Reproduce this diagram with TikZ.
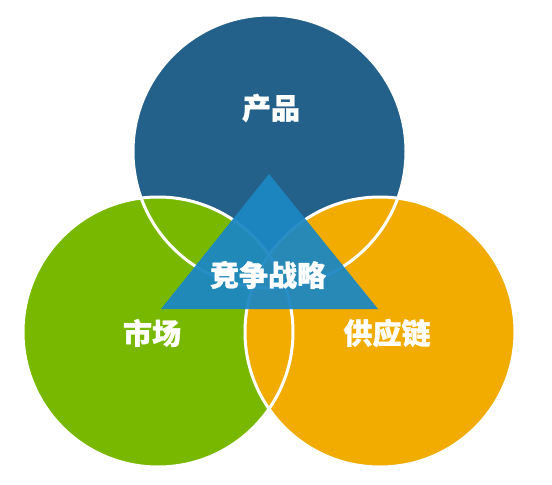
\documentclass[tikz,border=0pt]{standalone}
\usepackage{fontspec}
\newfontfamily\cjk{Noto Sans CJK SC}[BoldFeatures={FakeBold=1.2}]
\definecolor{prodblue}{HTML}{24618A}
\definecolor{mktgreen}{HTML}{79B800}
\definecolor{supplyorange}{HTML}{F2AC00}
\definecolor{stratblue}{HTML}{1C87C3}

\begin{document}
\begin{tikzpicture}[x=1pt, y=-1pt,
  ring/.style={draw=white, line width=3pt},
  label/.style={text=white, font=\cjk\bfseries\fontsize{29}{29}\selectfont, inner sep=0pt}]
\useasboundingbox (0, 0) rectangle (552, 485);
\fill [prodblue] (269.5, 151.5) circle (136.5);
\fill [mktgreen] (158, 332) circle (135);
\fill [supplyorange] (380, 332) circle (135);
\draw [ring] (269.5, 151.5) circle (136.5);
\draw [ring] (158, 332) circle (135);
\draw [ring] (380, 332) circle (135);
\fill [stratblue, opacity=0.94] (269, 174) -- (378, 309) -- (161, 309) -- cycle;
\node [label] (product) at (271, 108) {产品};
\node [label] (market) at (152, 333) {市场};
\node [label] (supply) at (387, 333) {供应链};
\node [label] (strategy) at (268, 275) {竞争战略};
\end{tikzpicture}
\end{document}
